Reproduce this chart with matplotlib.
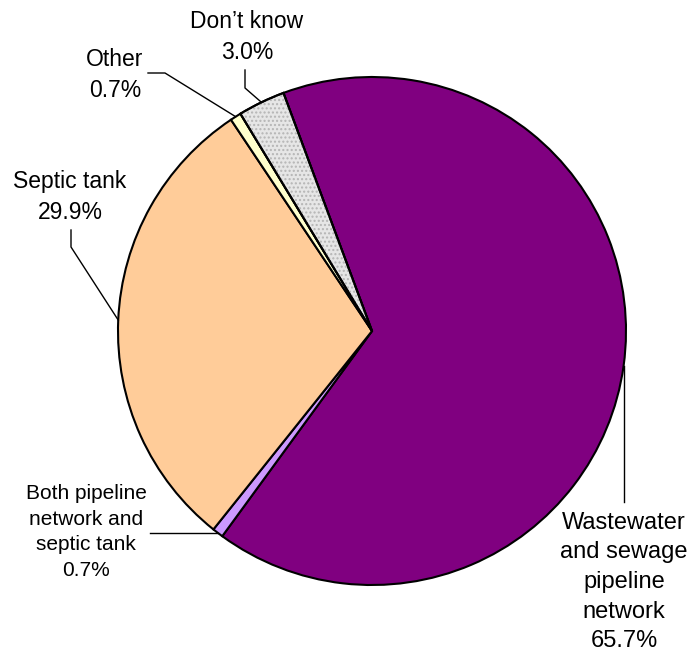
import matplotlib
matplotlib.use("Agg")
import numpy as np
import matplotlib.pyplot as plt
from matplotlib.patches import Wedge

plt.rcParams['font.family'] = ['Liberation Sans', 'DejaVu Sans']

# data, clockwise from the top
labels = ["Wastewater\nand sewage\npipeline\nnetwork",
          "Both pipeline\nnetwork and\nseptic tank",
          "Septic tank",
          "Other",
          "Don\u2019t know"]
shares = [65.7, 0.7, 29.9, 0.7, 3.0]
colors = ["#800080", "#CC99FF", "#FFCC99", "#FFFFCC", "#E6E6E6"]

# layout (pixels in the 695x653 image)
W, H = 695, 653
cx, cy, R = 372, 331, 254
start = 110.4

# label block centre, font size, leader elbow and leader end
# (None in an elbow means: keep the edge point's x or y)
text_pos = [(624, 582), (86, 532), (70, 197), (115, 75), (247, 37)]
font_sizes = [17, 15, 16.5, 16.5, 16.5]
elbows = [(None, 502), (150, None), (71, 247), (165, 73), (245, 88)]
ends = [None, None, (71, 230), (148, 73), (245, 70)]


def to_data(px, py):
    return (px - cx) / R, (cy - py) / R


fig = plt.figure(figsize=(W / 100, H / 100), dpi=100)
ax = fig.add_axes([(cx - R) / W, (H - cy - R) / H, 2 * R / W, 2 * R / H])

wedges, _ = ax.pie(shares, colors=colors, startangle=start, counterclock=False,
                   radius=1, wedgeprops=dict(edgecolor="black", linewidth=1.5))
ax.set_xlim(-1, 1)
ax.set_ylim(-1, 1)
ax.axis("off")
for w in wedges:
    w.set_clip_on(False)

# dotted texture on the "Don't know" slice
dk = wedges[4]
ax.add_patch(Wedge((0, 0), 1, dk.theta1, dk.theta2, fill=False, hatch="....",
                   edgecolor="#B5B5B5", linewidth=0, clip_on=False))
ax.add_patch(Wedge((0, 0), 1, dk.theta1, dk.theta2, fill=False,
                   edgecolor="black", linewidth=1.5, clip_on=False))

for i, w in enumerate(wedges):
    mid = np.deg2rad((w.theta1 + w.theta2) / 2)
    ex, ey = np.cos(mid), np.sin(mid)
    ebx, eby = elbows[i]
    if ebx is None:
        pts = [(ex, ey), (ex, to_data(0, eby)[1])]
    elif eby is None:
        pts = [(ex, ey), (to_data(ebx, 0)[0], ey)]
    else:
        pts = [(ex, ey), to_data(ebx, eby)]
        if ends[i] is not None:
            pts.append(to_data(*ends[i]))
    xs, ys = zip(*pts)
    ax.plot(xs, ys, color="black", linewidth=1.0, clip_on=False)

    tx, ty = to_data(*text_pos[i])
    ax.text(tx, ty, f"{labels[i]}\n{shares[i]:.1f}%", ha="center", va="center",
            fontsize=font_sizes[i], linespacing=1.45, color="black")

fig.savefig("out.png", dpi=100, facecolor="white")
